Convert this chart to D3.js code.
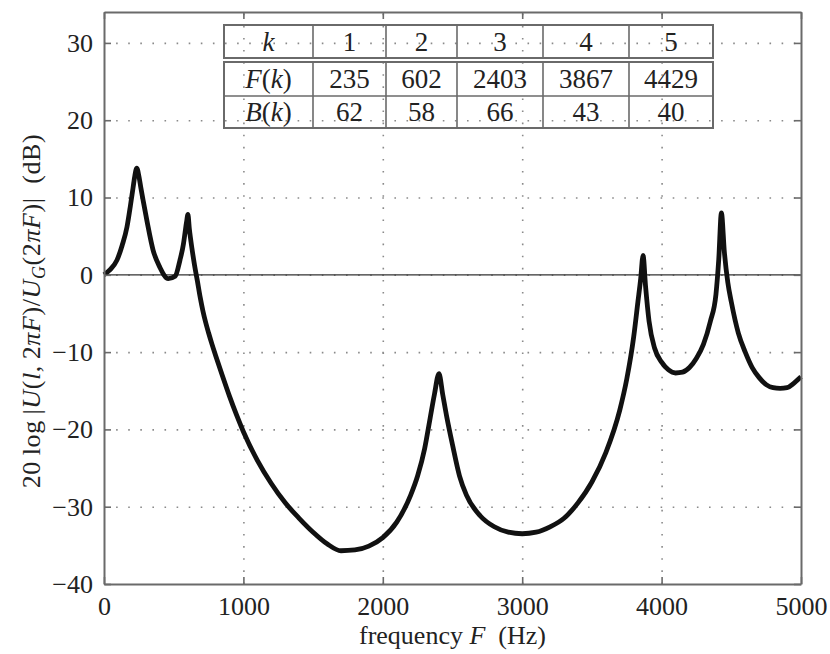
<!DOCTYPE html>
<html>
<head>
<meta charset="utf-8">
<script src="https://cdn.jsdelivr.net/npm/d3@7"></script>
<style>
  body { margin: 0; background: #fff; }
  text { font-family: "Liberation Serif", "DejaVu Serif", serif; fill: #222; }
</style>
</head>
<body>
<div id="wrapper"></div>
<script>
// values: frequency (Hz) and level (dB)
const freqs = [
  0, 40, 93, 130, 165, 190, 208, 222, 235, 250, 265, 280, 310, 352, 400, 461,
  510, 545, 570, 581, 592, 602, 612, 631, 650, 670, 690, 710, 730, 750, 775, 800, 850,
  900, 950, 1000, 1100, 1200, 1300, 1400, 1500, 1600, 1700, 1800, 1900, 2000, 2100,
  2200, 2250, 2300, 2340, 2370, 2403, 2430, 2460, 2500, 2550, 2600, 2700, 2800, 2900,
  3000, 3100, 3200, 3300, 3400, 3500, 3600, 3700, 3750, 3800, 3830, 3850, 3867, 3885,
  3910, 3950, 4000, 4050, 4100, 4150, 4200, 4250, 4300, 4350, 4390, 4410, 4429,
  4450, 4475, 4500, 4550, 4600, 4650, 4700, 4750, 4800, 4850, 4900, 4950, 5000
]
const levels = [
  0, 0.6, 1.9, 3.8, 6.2, 9.0, 11.2, 12.9, 13.8, 12.8, 11.2, 9.7, 6.8, 3.2, 1.0, -0.5,
  -0.2, 1.9, 4.0, 5.4, 6.8, 7.8, 6.0, 3.4, 1.2, -0.8, -2.9, -4.7, -6.2, -7.5, -9.0, -10.4, -13.1,
  -15.7, -18.1, -20.3, -24, -27, -29.5, -31.5, -33.3, -34.8, -35.7, -35.6, -35.1, -34, -32,
  -28.5, -26, -22.5, -18.5, -15.5, -12.8, -15.5, -18.5, -22, -26, -28.5, -31.2, -32.6, -33.3,
  -33.5, -33.3, -32.6, -31.5, -29.5, -26.8, -23, -17.5, -13.5, -8, -3.5, -0.5, 2.5, -1.5,
  -6, -9.5, -11.3, -12.3, -12.7, -12.6, -12, -10.8, -9, -6, -2.5, 2, 8,
  3, -1, -3.5, -7.5, -10, -12, -13.3, -14.2, -14.6, -14.7, -14.6, -14, -13.2
]

// the table of formants
const tableK = ["1", "2", "3", "4", "5"]
const tableF = ["235", "602", "2403", "3867", "4429"]
const tableB = ["62", "58", "66", "43", "40"]

const xTicks = [0, 1000, 2000, 3000, 4000, 5000]
const yTicks = [-40, -30, -20, -10, 0, 10, 20, 30]

function drawChart() {
  const data = freqs.map((f, i) => ({ f: f, db: levels[i] }))
  const xAccessor = d => d.f
  const yAccessor = d => d.db

  // chart dimensions
  let dimensions = {
    width: 830,
    height: 654,
    margin: { top: 12, right: 29, bottom: 70, left: 104 },
  }
  dimensions.boundedWidth = dimensions.width - dimensions.margin.left - dimensions.margin.right
  dimensions.boundedHeight = dimensions.height - dimensions.margin.top - dimensions.margin.bottom

  const wrapper = d3.select("#wrapper")
    .append("svg")
      .attr("width", dimensions.width)
      .attr("height", dimensions.height)

  const bounds = wrapper.append("g")
    .attr("transform", `translate(${dimensions.margin.left},${dimensions.margin.top})`)

  // scales
  const xScale = d3.scaleLinear()
    .domain([0, 5000])
    .range([0, dimensions.boundedWidth])

  const yScale = d3.scaleLinear()
    .domain([-40, 34])
    .range([dimensions.boundedHeight, 0])

  // dotted grid
  const gridX = bounds.append("g")
    .attr("transform", `translate(0,${dimensions.boundedHeight})`)
    .call(d3.axisBottom(xScale).tickValues(xTicks.slice(1, -1))
      .tickSize(-dimensions.boundedHeight).tickFormat(""))
  const gridY = bounds.append("g")
    .call(d3.axisLeft(yScale).tickValues(yTicks.slice(1))
      .tickSize(-dimensions.boundedWidth).tickFormat(""))
  for (const g of [gridX, gridY]) {
    g.select(".domain").remove()
    g.selectAll("line")
      .attr("stroke", "#8a8a8a")
      .attr("stroke-width", 1.6)
      .attr("stroke-dasharray", "1.6,10.5")
  }

  // zero line
  bounds.append("line")
    .attr("x1", 0).attr("x2", dimensions.boundedWidth)
    .attr("y1", yScale(0)).attr("y2", yScale(0))
    .attr("stroke", "#333")
    .attr("stroke-width", 1.3)

  // table
  const colEdges = [224, 313, 386, 457, 543, 629, 713].map(v => v - dimensions.margin.left)
  const rowTop = 25 - dimensions.margin.top
  const tableG = bounds.append("g")
  const boxStyle = sel => sel.attr("fill", "none").attr("stroke", "#6a6a6a").attr("stroke-width", 2)
  tableG.append("rect")
    .attr("x", colEdges[0]).attr("y", rowTop)
    .attr("width", colEdges[6] - colEdges[0]).attr("height", 33)
    .call(boxStyle)
  tableG.append("rect")
    .attr("x", colEdges[0]).attr("y", rowTop + 37)
    .attr("width", colEdges[6] - colEdges[0]).attr("height", 66)
    .call(boxStyle)
  tableG.append("line")
    .attr("x1", colEdges[0]).attr("x2", colEdges[6])
    .attr("y1", rowTop + 71).attr("y2", rowTop + 71)
    .attr("stroke", "#6a6a6a").attr("stroke-width", 1.6)
  colEdges.slice(1, -1).forEach(cx => {
    tableG.append("line").attr("x1", cx).attr("x2", cx)
      .attr("y1", rowTop).attr("y2", rowTop + 33)
      .attr("stroke", "#6a6a6a").attr("stroke-width", 1.6)
    tableG.append("line").attr("x1", cx).attr("x2", cx)
      .attr("y1", rowTop + 37).attr("y2", rowTop + 103)
      .attr("stroke", "#6a6a6a").attr("stroke-width", 1.6)
  })
  const rows = [
    { label: ["", "k", ""], values: tableK, y: rowTop + 16.5 },
    { label: ["F(", "k", ")"], values: tableF, y: rowTop + 54 },
    { label: ["B(", "k", ")"], values: tableB, y: rowTop + 87 },
  ]
  rows.forEach(r => {
    const lab = tableG.append("text")
      .attr("x", (colEdges[0] + colEdges[1]) / 2)
      .attr("y", r.y)
      .attr("dy", "0.34em")
      .attr("text-anchor", "middle")
      .style("font-size", "27px")
    if (r.label[0]) {
      lab.append("tspan").style("font-style", "italic").text(r.label[0][0])
      lab.append("tspan").text("(")
    }
    lab.append("tspan").style("font-style", "italic").text(r.label[1])
    if (r.label[2]) lab.append("tspan").text(")")
    r.values.forEach((v, i) => {
      tableG.append("text")
        .attr("x", (colEdges[i + 1] + colEdges[i + 2]) / 2)
        .attr("y", r.y)
        .attr("dy", "0.34em")
        .attr("text-anchor", "middle")
        .style("font-size", "27px")
        .text(v)
    })
  })

  // the curve
  const lineGenerator = d3.line()
    .x(d => xScale(xAccessor(d)))
    .y(d => yScale(yAccessor(d)))
    .curve(d3.curveMonotoneX)

  bounds.append("path")
    .datum(data)
    .attr("d", lineGenerator)
    .attr("fill", "none")
    .attr("stroke", "#111")
    .attr("stroke-width", 4.8)
    .attr("stroke-linejoin", "round")

  // axes with inward ticks on all four sides
  const xAxis = bounds.append("g")
    .attr("transform", `translate(0,${dimensions.boundedHeight})`)
    .call(d3.axisBottom(xScale).tickValues(xTicks).tickSizeInner(-7).tickSizeOuter(0)
      .tickPadding(13).tickFormat(d3.format("d")))
  const xAxisTop = bounds.append("g")
    .call(d3.axisTop(xScale).tickValues(xTicks).tickSizeInner(-7).tickSizeOuter(0).tickFormat(""))
  const yAxis = bounds.append("g")
    .call(d3.axisLeft(yScale).tickValues(yTicks).tickSizeInner(-7).tickSizeOuter(0)
      .tickPadding(11).tickFormat(d => d < 0 ? "\u2212" + Math.abs(d) : d))
  const yAxisRight = bounds.append("g")
    .attr("transform", `translate(${dimensions.boundedWidth},0)`)
    .call(d3.axisRight(yScale).tickValues(yTicks).tickSizeInner(-7).tickSizeOuter(0).tickFormat(""))

  for (const g of [xAxis, xAxisTop, yAxis, yAxisRight]) {
    g.select(".domain").attr("stroke", "#6a6a6a").attr("stroke-width", 2)
    g.selectAll(".tick line").attr("stroke", "#6a6a6a").attr("stroke-width", 1.6)
    g.selectAll("text")
      .attr("fill", "#222")
      .style("font-family", "'Liberation Serif', serif")
      .style("font-size", "26px")
  }

  // axis labels
  const xLabel = bounds.append("text")
    .attr("x", dimensions.boundedWidth / 2)
    .attr("y", dimensions.boundedHeight + 60)
    .attr("text-anchor", "middle")
    .style("font-size", "26px")
  xLabel.append("tspan").text("frequency ")
  xLabel.append("tspan").style("font-style", "italic").text("F")
  xLabel.append("tspan").text("\u2002(Hz)")

  const yLabel = wrapper.append("text")
    .attr("transform", "translate(40,311) rotate(-90)")
    .attr("text-anchor", "middle")
    .style("font-size", "26px")
    .style("letter-spacing", "0.6px")
  const parts = [
    ["20\u2009log\u2009|", false], ["U", true], ["(", false], ["l", true], [",\u20092", false],
    ["\u03c0F", true], [")/", false], ["U", true],
  ]
  parts.forEach(([t, it]) => yLabel.append("tspan").style("font-style", it ? "italic" : "normal").text(t))
  yLabel.append("tspan").style("font-style", "italic").style("font-size", "18px")
    .attr("dy", 5).text("G")
  yLabel.append("tspan").attr("dy", -5).text("(2")
  yLabel.append("tspan").style("font-style", "italic").text("\u03c0F")
  yLabel.append("tspan").text(")|\u2002(dB)")
}

drawChart()
</script>
</body>
</html>
